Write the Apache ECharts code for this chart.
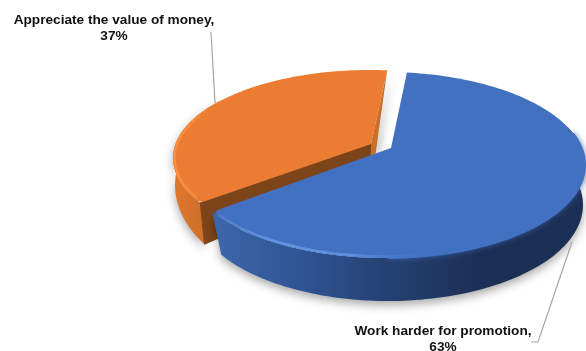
<!DOCTYPE html>
<html>
<head>
<meta charset="utf-8">
<style>html,body{margin:0;padding:0;background:#fff}#chart{width:586px;height:351px}</style>
<script src="https://cdn.jsdelivr.net/npm/echarts@6/dist/echarts.min.js"></script>
</head>
<body>
<div id="chart"></div>
<script>
// Survey shares, in percent
const categories = ['Work harder for promotion', 'Appreciate the value of money'];
const shares = [63, 37];
const total = shares.reduce((a, b) => a + b, 0);

const START_ANGLE = 5.6; // degrees clockwise from twelve o'clock

// Projected disc of each slice: top and bottom rims with their hub points,
// plus the span of the slice (in degrees from its start) whose wall faces the viewer
const discs = [
  {
    top: { cx: 385, cy: 165, a: 200, b: 93, hx: 391, hy: 148 },
    bottom: { cx: 388, cy: 205, a: 195, b: 96, hx: 392, hy: 190 },
    wall: [70, 226.8]
  },
  {
    top: { cx: 370, cy: 158, a: 197, b: 88, hx: 371, hy: 144 },
    bottom: { cx: 373, cy: 185, a: 198, b: 113, hx: 369, hy: 172 },
    wall: [0, 70],
    foot: [371, 187]
  }
];

const linear = (x, x2, stops) => ({
  type: 'linear', x, y: 0, x2, y2: 0, global: true,
  colorStops: stops.map(([offset, color]) => ({ offset, color }))
});

const topFill = ['#4371C2', '#EB7D32'];
const wallFill = [
  linear(218, 585, [[0, '#3B66AA'], [0.25, '#2E5290'], [0.48, '#233F70'], [0.72, '#1B2F55'], [1, '#1B2F55']]),
  linear(175, 240, [[0, '#DE772C'], [0.5, '#CC6E29'], [1, '#C06624']])
];
const cutDark = '#7E4419';
const cutLight = '#C96F2A';

// Rim strokes that model the bevel: span in degrees from the slice start, width and colour
const bevels = [
  [
    { span: [75, 175], width: 2, offset: 0, blur: 5, stroke: '#4371C2' },
    { span: [125, 224], width: 2.5, offset: 1.5, blur: 0,
      stroke: linear(220, 440, [[0, 'rgba(91,139,220,0.5)'], [0.25, '#6395E2'], [0.6, '#5E90DE'], [1, 'rgba(67,113,194,0)']]) }
  ],
  [
    { span: [3, 62], width: 2.5, offset: 1.5, blur: 0,
      stroke: linear(173, 225, [[0, '#FF9040'], [0.5, '#F78838'], [1, 'rgba(235,125,50,0)']]) }
  ]
];

// Point where the ray from the hub at the given angle meets the elliptical rim
function rimPoint(e, deg) {
  const t = deg * Math.PI / 180;
  const dx = e.a * Math.sin(t), dy = -e.b * Math.cos(t);
  const ox = (e.hx - e.cx) / e.a, oy = (e.hy - e.cy) / e.b;
  const px = dx / e.a, py = dy / e.b;
  const A = px * px + py * py, B = 2 * (ox * px + oy * py), C = ox * ox + oy * oy - 1;
  const s = (-B + Math.sqrt(B * B - 4 * A * C)) / (2 * A);
  return [e.hx + dx * s, e.hy + dy * s];
}

function arc(e, from, to) {
  const pts = [];
  const n = Math.ceil(Math.abs(to - from) / 1.5);
  for (let i = 0; i <= n; i++) pts.push(rimPoint(e, from + (to - from) * i / n));
  return pts;
}

// Quadratic fillet through a corner, from a point before it to a point after it
function fillet(a, corner, b) {
  const pts = [];
  for (let k = 0; k <= 8; k++) {
    const t = k / 8, u = 1 - t;
    pts.push([
      u * u * a[0] + 2 * u * t * corner[0] + t * t * b[0],
      u * u * a[1] + 2 * u * t * corner[1] + t * t * b[1]
    ]);
  }
  return pts;
}

function towards(p, q, dist) {
  const d = Math.hypot(q[0] - p[0], q[1] - p[1]);
  return [p[0] + (q[0] - p[0]) * dist / d, p[1] + (q[1] - p[1]) * dist / d];
}

function renderSlice(params, api) {
  const i = params.dataIndex;
  const before = shares.slice(0, i).reduce((a, b) => a + b, 0);
  const from = START_ANGLE + before / total * 360;
  const to = from + api.value(0) / total * 360;
  const { top, bottom, wall, foot } = discs[i];
  const hub = [top.hx, top.hy];
  const baseZ = i === 0 ? 10 : 0;
  const shadow = { shadowColor: 'rgba(0,0,0,0.34)', shadowBlur: 10, shadowOffsetY: 4 };
  const children = [];

  // Front wall
  const wallTop = arc(top, from + wall[0], from + wall[1]);
  const wallBottom = arc(bottom, from + wall[0], from + wall[1]);
  children.push({
    type: 'polygon', z2: baseZ + 1,
    shape: { points: wallTop.concat(wallBottom.slice().reverse()) },
    style: Object.assign({ fill: wallFill[i] }, shadow)
  });

  // Top face, with the outer corner at the trailing or leading edge softened
  let face;
  if (i === 0) {
    const corner = rimPoint(top, to);
    const rim = arc(top, from, to - 2.5);
    face = rim.concat(fillet(rim[rim.length - 1], corner, towards(corner, hub, 7)), [hub]);
  } else {
    const corner = rimPoint(top, from);
    const rim = arc(top, from + 2, to);
    face = fillet(towards(corner, hub, 6), corner, rim[0]).concat(rim, [hub]);

    // Faces of the two cuts, visible because the slice is pulled out
    children.push({
      type: 'polygon', z2: baseZ + 2,
      shape: { points: [corner, hub, [bottom.hx, bottom.hy], rimPoint(bottom, from)] },
      style: { fill: cutDark, stroke: cutDark, lineWidth: 1, lineJoin: 'round' }
    });
    children.push({
      type: 'polygon', z2: baseZ + 2,
      shape: { points: [rimPoint(top, to), hub, foot] },
      style: { fill: cutLight, shadowColor: 'rgba(0,0,0,0.3)', shadowBlur: 8, shadowOffsetX: 3 }
    });
  }
  children.push({
    type: 'polygon', z2: baseZ + 3,
    shape: { points: face },
    style: { fill: topFill[i] }
  });

  // Bevel along the rim
  bevels[i].forEach((b) => {
    const inset = Object.assign({}, top, { a: top.a - b.offset, b: top.b - b.offset });
    children.push({
      type: 'polyline', z2: baseZ + 4,
      shape: { points: arc(inset, from + b.span[0], from + b.span[1]) },
      style: {
        fill: null, stroke: b.stroke, lineWidth: b.width, lineCap: 'round',
        shadowColor: b.blur ? b.stroke : 'transparent', shadowBlur: b.blur
      }
    });
  });

  return { type: 'group', children };
}

// Leader lines and category labels
const labelStyle = {
  fill: '#111', font: 'bold 13.65px "Liberation Sans", Arial, sans-serif',
  align: 'center', verticalAlign: 'middle', lineHeight: 16
};
const labelSpots = [
  { x: 443, y: 339, line: [[572, 242], [538, 342], [531, 342]] },
  { x: 114, y: 28, line: [[211, 32], [215, 103]] }
];

function renderLabel(params, api) {
  const i = params.dataIndex;
  const spot = labelSpots[i];
  return {
    type: 'group',
    children: [
      { type: 'polyline', z2: 30, shape: { points: spot.line }, style: { fill: null, stroke: '#A6A6A6', lineWidth: 1.2 } },
      { type: 'text', z2: 31, x: spot.x, y: spot.y,
        style: Object.assign({ text: categories[i] + ',\n' + api.value(0) + '%' }, labelStyle) }
    ]
  };
}

const rows = shares.map((v, i) => ({ name: categories[i], value: [v] }));
const chart = echarts.init(document.getElementById('chart'), null, { renderer: 'canvas' });
chart.setOption({
  backgroundColor: '#fff',
  animation: false,
  series: [
    { type: 'custom', coordinateSystem: 'none', renderItem: renderSlice, data: rows, silent: true },
    { type: 'custom', coordinateSystem: 'none', renderItem: renderLabel, data: rows, silent: true }
  ]
});
</script>
</body>
</html>
